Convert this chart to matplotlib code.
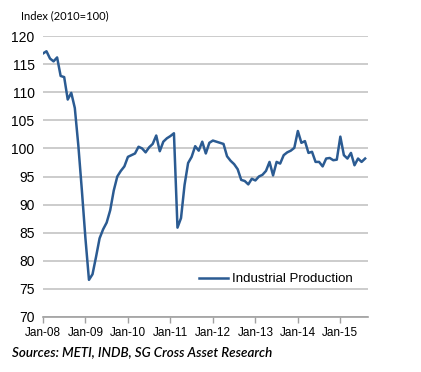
import matplotlib

matplotlib.use("Agg")
import matplotlib.pyplot as plt
import numpy as np

# Monthly index, Jan-08 .. Aug-15 (2010=100)
ip_values = [
    116.9, 117.3, 116.0, 115.5, 116.2, 112.9, 112.7, 108.7, 109.9, 107.2, 100.5, 92.5,
    84.0, 76.6, 77.6, 80.7, 84.0, 85.6, 86.8, 89.0, 92.5, 95.0, 96.0, 96.8,
    98.5, 98.8, 99.1, 100.3, 100.0, 99.3, 100.2, 100.8, 102.3, 99.5, 101.2, 101.8,
    102.2, 102.7, 85.9, 87.6, 93.5, 97.4, 98.5, 100.4, 99.6, 101.2, 99.1, 101.0,
    101.4, 101.2, 101.0, 100.8, 98.6, 97.8, 97.2, 96.3, 94.4, 94.2, 93.6, 94.6,
    94.3, 95.0, 95.3, 96.0, 97.6, 95.2, 97.6, 97.3, 98.8, 99.3, 99.6, 100.1,
    103.1, 101.0, 101.3, 99.2, 99.4, 97.6, 97.6, 96.8, 98.2, 98.3, 97.9, 98.0,
    102.1, 98.8, 98.2, 99.2, 97.0, 98.2, 97.6, 98.2,
]
year_labels = ["Jan-08", "Jan-09", "Jan-10", "Jan-11", "Jan-12", "Jan-13", "Jan-14", "Jan-15"]
y_ticks = [70, 75, 80, 85, 90, 95, 100, 105, 110, 115, 120]

line_color = "#2b5b92"
grid_color = "#c4c4c4"

fig = plt.figure(figsize=(4.21, 3.72), dpi=100)
ax = fig.add_axes([0.102, 0.148, 0.772, 0.755])

months = np.arange(len(ip_values))
ax.plot(months, ip_values, color=line_color, linewidth=1.8, label="Industrial Production")

ax.set_ylim(70, 120)
ax.set_xlim(0, 91.8)
ax.set_yticks(y_ticks)
ax.set_xticks(np.arange(len(year_labels)) * 12)
ax.set_xticklabels(year_labels)
ax.yaxis.grid(True, color=grid_color, linewidth=1.2)
ax.set_axisbelow(True)

for side in ["left", "right", "top"]:
    ax.spines[side].set_visible(False)
ax.spines["bottom"].set_color("#a0a0a0")
ax.spines["bottom"].set_linewidth(1.2)
ax.tick_params(axis="y", length=0, pad=6, labelsize=10)
ax.tick_params(axis="x", length=4, color="#a0a0a0", width=1, pad=3, labelsize=8.5)
for lbl in ax.get_xticklabels() + ax.get_yticklabels():
    lbl.set_fontfamily("Liberation Sans")

ax.legend(loc="lower right", bbox_to_anchor=(0.99, 0.07), frameon=False,
          prop={"family": "Liberation Sans", "size": 9.5},
          handlelength=2.2, handletextpad=0.3)

fig.text(21 / 421, 1 - 16 / 372, "Index (2010=100)", fontsize=8, family="Lato",
         va="center", ha="left")
fig.text(12 / 421, 1 - 352 / 372, "Sources: METI, INDB, SG Cross Asset Research",
         fontsize=9.6, family="Lato", style="italic", weight="semibold",
         va="center", ha="left")

fig.savefig("out.png", dpi=100)
